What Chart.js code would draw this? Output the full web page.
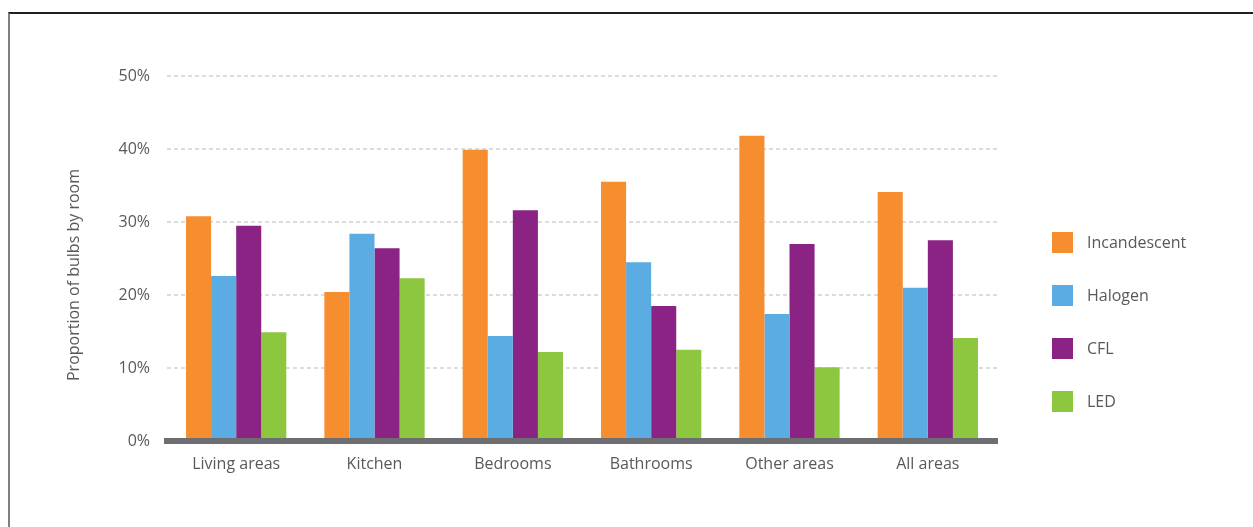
<!DOCTYPE html>
<html>
<head>
<meta charset="utf-8">
<script src="https://cdn.jsdelivr.net/npm/chart.js@4"></script>
<style>
  html, body { margin: 0; padding: 0; background: #fff; }
  #wrap { position: relative; width: 1253px; height: 527px; overflow: hidden; }
  #frame { position: absolute; left: 8px; top: 12px; right: -5px; bottom: -5px;
           border-top: 2px solid #231f20; border-left: 2px solid #808080; pointer-events: none; }
  canvas { position: absolute; left: 0; top: 0; }
</style>
</head>
<body>
<div id="wrap">
  <canvas id="c" width="1253" height="527"></canvas>
  <div id="frame"></div>
</div>
<script>
const categories = ["Living areas", "Kitchen", "Bedrooms", "Bathrooms", "Other areas", "All areas"];
const seriesNames = ["Incandescent", "Halogen", "CFL", "LED"];
const incandescent = [30.8, 20.4, 39.9, 35.5, 41.8, 34.1];
const halogen      = [22.6, 28.4, 14.4, 24.5, 17.4, 21.0];
const cfl          = [29.5, 26.4, 31.6, 18.5, 27.0, 27.5];
const led          = [14.9, 22.3, 12.2, 12.5, 10.1, 14.1];
const yTicks = [0, 10, 20, 30, 40, 50];
const yTitle = "Proportion of bulbs by room";
const colors = ["#f68d2e", "#5aace2", "#8a2383", "#8dc63f"];

const FONT = "'Open Sans', 'Liberation Sans', sans-serif";
const TEXT = "#58595b";

const legendPlugin = {
  id: 'sideLegend',
  afterDraw(chart) {
    const ctx = chart.ctx;
    ctx.save();
    ctx.font = "16px " + FONT;
    ctx.textBaseline = "middle";
    ctx.textAlign = "left";
    chart.data.datasets.forEach((ds, i) => {
      const cy = 242.5 + i * 53;
      ctx.fillStyle = ds.backgroundColor;
      ctx.fillRect(1052, cy - 10.5, 21, 21);
      ctx.fillStyle = TEXT;
      ctx.fillText(ds.label, 1087, cy + 1);
    });
    // y-axis title
    ctx.translate(74, 275);
    ctx.rotate(-Math.PI / 2);
    ctx.textAlign = "center";
    ctx.fillText(yTitle, 0, 0);
    ctx.restore();
  }
};

const seriesData = [incandescent, halogen, cfl, led];

new Chart(document.getElementById('c'), {
  type: 'bar',
  data: {
    labels: categories,
    datasets: seriesNames.map((n, i) => ({
      label: n,
      data: seriesData[i],
      backgroundColor: colors[i],
      borderWidth: 0,
      categoryPercentage: 0.725,
      barPercentage: 1.0
    }))
  },
  options: {
    responsive: false,
    animation: false,
    devicePixelRatio: 1,
    layout: { padding: { left: 10, right: 256, top: 76, bottom: 0 } },
    plugins: {
      legend: { display: false },
      tooltip: { enabled: false }
    },
    scales: {
      x: {
        grid: { display: true, drawOnChartArea: false, drawTicks: false, color: 'rgba(0,0,0,0)', lineWidth: 1 },
        border: { display: true, color: '#6d6e71', width: 6, z: 1 },
        ticks: { color: TEXT, font: { family: FONT, size: 16 }, padding: 14, maxRotation: 0 },
        afterFit(scale) { scale.height = 86; }
      },
      y: {
        min: 0, max: 50,
        afterBuildTicks(scale) { scale.ticks = yTicks.map(v => ({ value: v })); },
        grid: { color: '#dcdcdc', lineWidth: 2, drawTicks: false },
        border: { display: false, dash: [4, 3] },
        ticks: { color: TEXT, font: { family: FONT, size: 16 }, padding: 17,
                 callback: v => v + '%' },
        afterFit(scale) { scale.width = 157; }
      }
    }
  },
  plugins: [legendPlugin]
});
</script>
</body>
</html>
